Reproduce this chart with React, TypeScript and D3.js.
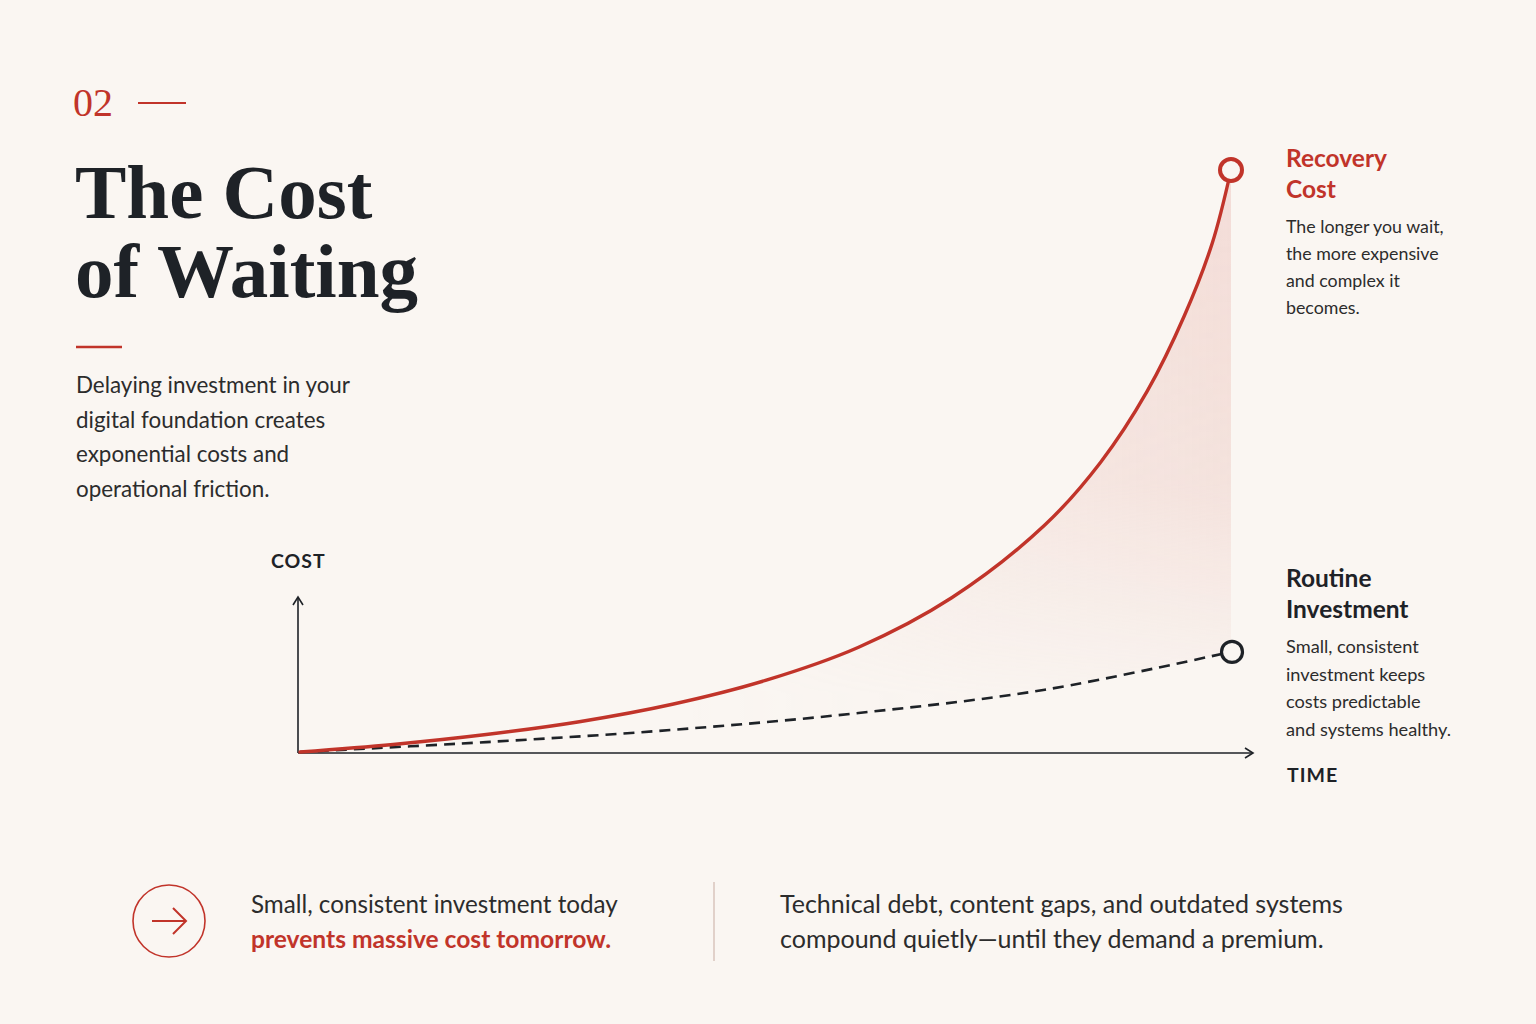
import React from "react";
import * as d3 from "d3";

// ---- data ----
const timeSteps = [0, 1, 2, 3, 4, 5, 6, 7, 8, 8.6, 9.1, 9.5, 9.8, 10];
const recoveryCost = [0, 1.3, 3.0, 5.2, 8.2, 12.3, 18.0, 26.5, 39, 49.8, 62, 75, 87.5, 100];
const routineSteps = [0, 2, 4, 6, 8, 10];
const routineCost = [0, 1.7, 3.8, 6.7, 10.7, 17.2];

const recoveryTitle = ["Recovery", "Cost"];
const recoveryDesc = ["The longer you wait,", "the more expensive", "and complex it", "becomes."];
const routineTitle = ["Routine", "Investment"];
const routineDesc = ["Small, consistent", "investment keeps", "costs predictable", "and systems healthy."];
const introLines = [
  "Delaying investment in your",
  "digital foundation creates",
  "exponential costs and",
  "operational friction.",
];

const BG = "#faf6f2";
const RED = "#c1342a";
const INK = "#1e2227";
const TEXT = "#2c2c2c";
const SANS = "Lato, 'Open Sans', sans-serif";
const SERIF = "'Liberation Serif', 'DejaVu Serif', serif";

export default function App() {
  const W = 1536;
  const H = 1024;
  const x = d3.scaleLinear().domain([0, 10]).range([300, 1231]);
  const y = d3.scaleLinear().domain([0, 100]).range([752, 170]);

  const redPts: [number, number][] = timeSteps.map((t, i) => [t, recoveryCost[i]]);
  const dashPts: [number, number][] = routineSteps.map((t, i) => [t, routineCost[i]]);

  const line = d3
    .line<[number, number]>()
    .x((d) => x(d[0]))
    .y((d) => y(d[1]))
    .curve(d3.curveCatmullRom.alpha(0.5));

  const interp = d3.scaleLinear().domain(routineSteps).range(routineCost);

  const area = d3
    .area<[number, number]>()
    .x((d) => x(d[0]))
    .y0((d) => y(Math.min(interp(d[0]), d[1])))
    .y1((d) => y(d[1]))
    .curve(d3.curveCatmullRom.alpha(0.5));

  const axisLeft = 298;
  const axisBottom = 753;
  const axisTop = 597;
  const axisRight = 1253;

  const endRed = redPts[redPts.length - 1];
  const endDash = dashPts[dashPts.length - 1];

  return (
    <svg
      width={W}
      height={H}
      viewBox={`0 0 ${W} ${H}`}
      style={{ position: "absolute", left: 0, top: 0, display: "block" }}
    >
      <defs>
        <linearGradient id="fillH" x1={x(4)} x2={x(10)} y1={0} y2={0} gradientUnits="userSpaceOnUse">
          <stop offset="0" stopColor="#e9b8b0" stopOpacity="0" />
          <stop offset="0.55" stopColor="#e9b8b0" stopOpacity="0.26" />
          <stop offset="1" stopColor="#e9b8b0" stopOpacity="0.4" />
        </linearGradient>
        <linearGradient id="fadeV" x1={0} x2={0} y1={y(100)} y2={y(10)} gradientUnits="userSpaceOnUse">
          <stop offset="0" stopColor="#fff" stopOpacity="1" />
          <stop offset="0.6" stopColor="#fff" stopOpacity="0.8" />
          <stop offset="1" stopColor="#fff" stopOpacity="0.1" />
        </linearGradient>
        <mask id="fadeMask">
          <rect x={0} y={0} width={W} height={H} fill="url(#fadeV)" />
        </mask>
      </defs>
      <rect x={0} y={0} width={W} height={H} fill={BG} />

      {/* section number */}
      <text x={73} y={116} fontFamily={SERIF} fontSize={40} fill={RED}>
        02
      </text>
      <line x1={138} x2={186} y1={103} y2={103} stroke={RED} strokeWidth={2} />

      {/* title */}
      <text fontFamily={SERIF} fontWeight={700} fontSize={77} fill={INK}>
        <tspan x={75} y={218}>The Cost</tspan>
        <tspan x={75} y={297}>of Waiting</tspan>
      </text>
      <line x1={76} x2={122} y1={347} y2={347} stroke={RED} strokeWidth={2.5} />

      <text fontFamily={SANS} fontSize={22.4} fill={TEXT}>
        {introLines.map((l, i) => (
          <tspan key={i} x={76} y={393 + i * 34.7}>
            {l}
          </tspan>
        ))}
      </text>

      {/* axes */}
      <text x={271} y={568} fontFamily={SANS} fontWeight={700} fontSize={19.5} fill={INK} letterSpacing={1}>
        COST
      </text>
      <line x1={axisLeft} x2={axisLeft} y1={axisBottom} y2={axisTop} stroke={INK} strokeWidth={1.6} />
      <path
        d={`M${axisLeft - 5},${axisTop + 8} L${axisLeft},${axisTop} L${axisLeft + 5},${axisTop + 8}`}
        fill="none"
        stroke={INK}
        strokeWidth={1.6}
      />
      <line x1={axisLeft} x2={axisRight} y1={axisBottom} y2={axisBottom} stroke={INK} strokeWidth={1.6} />
      <path
        d={`M${axisRight - 8},${axisBottom - 5} L${axisRight},${axisBottom} L${axisRight - 8},${axisBottom + 5}`}
        fill="none"
        stroke={INK}
        strokeWidth={1.6}
      />
      <text x={1287} y={782} fontFamily={SANS} fontWeight={700} fontSize={19.5} fill={INK} letterSpacing={1}>
        TIME
      </text>

      {/* shaded gap */}
      <g mask="url(#fadeMask)">
        <path d={area(redPts) || ""} fill="url(#fillH)" />
      </g>

      {/* routine dashed */}
      <path
        d={line(dashPts) || ""}
        fill="none"
        stroke={INK}
        strokeWidth={2.6}
        strokeDasharray="11 7"
      />
      {/* recovery */}
      <path d={line(redPts) || ""} fill="none" stroke={RED} strokeWidth={3.4} strokeLinecap="round" />

      <circle cx={x(endRed[0])} cy={y(endRed[1])} r={11} fill={BG} stroke={RED} strokeWidth={4} />
      <circle cx={x(endDash[0]) + 1} cy={y(endDash[1])} r={10.5} fill={BG} stroke={INK} strokeWidth={3.2} />

      {/* right labels */}
      <text fontFamily={SANS} fontWeight={700} fontSize={24.5} fill={RED}>
        {recoveryTitle.map((l, i) => (
          <tspan key={i} x={1286} y={167 + i * 31}>
            {l}
          </tspan>
        ))}
      </text>
      <text fontFamily={SANS} fontSize={17.8} fill={TEXT}>
        {recoveryDesc.map((l, i) => (
          <tspan key={i} x={1286} y={233 + i * 27}>
            {l}
          </tspan>
        ))}
      </text>
      <text fontFamily={SANS} fontWeight={700} fontSize={24.5} fill={INK}>
        {routineTitle.map((l, i) => (
          <tspan key={i} x={1286} y={587 + i * 31}>
            {l}
          </tspan>
        ))}
      </text>
      <text fontFamily={SANS} fontSize={18.2} fill={TEXT}>
        {routineDesc.map((l, i) => (
          <tspan key={i} x={1286} y={653 + i * 27.5}>
            {l}
          </tspan>
        ))}
      </text>

      {/* bottom callout */}
      <circle cx={169} cy={921} r={36} fill="none" stroke={RED} strokeWidth={1.6} />
      <line x1={152} x2={185} y1={921} y2={921} stroke={RED} strokeWidth={2} />
      <path d="M173,908 L186,921 L173,934" fill="none" stroke={RED} strokeWidth={2} />

      <text fontFamily={SANS} fontSize={24.2} fill={TEXT}>
        <tspan x={251} y={913}>Small, consistent investment today</tspan>
      </text>
      <text fontFamily={SANS} fontWeight={700} fontSize={24.6} fill={RED}>
        <tspan x={251} y={948}>prevents massive cost tomorrow.</tspan>
      </text>
      <line x1={714} x2={714} y1={882} y2={961} stroke="#d9c5bd" strokeWidth={1.5} />
      <text fontFamily={SANS} fontSize={25} fill={TEXT}>
        <tspan x={780} y={913}>Technical debt, content gaps, and outdated systems</tspan>
        <tspan x={780} y={948}>compound quietly—until they demand a premium.</tspan>
      </text>
    </svg>
  );
}
